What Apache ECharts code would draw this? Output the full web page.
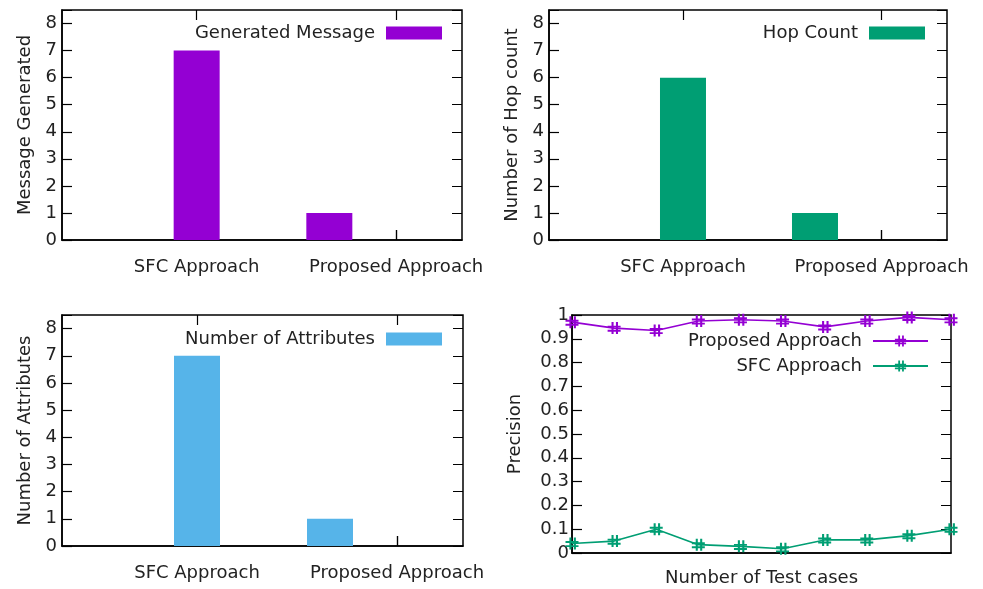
<!DOCTYPE html>
<html>
<head>
<meta charset="utf-8">
<title>Comparison charts</title>
<script src="https://cdn.jsdelivr.net/npm/echarts@6/dist/echarts.min.js"></script>
<style>
  html, body { margin: 0; padding: 0; background: #fff; }
  #main { width: 983px; height: 589px; }
</style>
</head>
<body>
<div id="main"></div>
<script>
// data
var approaches = ['SFC Approach', 'Proposed Approach'];
var approachTicks = [0, 1];        // where the two tick labels sit on the x scale
var barX = [0, 0.665];             // x position of each bar on the same scale
var generatedMessage = [7, 1];
var hopCount = [6, 1];
var attributeCount = [7, 1];

var testCases = ['1', '2', '3', '4', '5', '6', '7', '8', '9', '10'];
var proposedPrecision = [0.97, 0.945, 0.935, 0.975, 0.98, 0.975, 0.95, 0.975, 0.99, 0.98];
var sfcPrecision = [0.04, 0.05, 0.1, 0.035, 0.028, 0.018, 0.055, 0.055, 0.073, 0.1];

var chart = echarts.init(document.getElementById('main'));

var FONT = 'DejaVu Sans';
var TXT = '#222';
var TICK = 10;   // gnuplot-style inward tick length
var hashSymbol = 'path://M3,0H4.6V10H3Z M6.4,0H8V10H6.4Z M0,3H10V4.6H0Z M0,6.4H10V8H0Z';

// grid border gives the closed gnuplot frame
var grids = [
    { left: 62, top: 10, width: 400, height: 230 },
    { left: 549, top: 10, width: 398, height: 230 },
    { left: 62, top: 315, width: 401, height: 231 },
    { left: 572, top: 315, width: 379, height: 238 }
].map(function (g) {
    return Object.assign({ show: true, borderColor: '#000', borderWidth: 1.5, backgroundColor: 'transparent' }, g);
});

function frameLine() {
    return { show: true, onZero: false, lineStyle: { color: '#000', width: 1.5 } };
}
function inTick(custom) {
    var t = { show: true, inside: true, length: TICK, lineStyle: { color: '#000', width: 1.2 } };
    if (custom) t.customValues = custom.slice();
    return t;
}
// split lines dashed so only both ends show -> inward ticks on the two opposite borders
function endTicks(span) {
    return { show: true, lineStyle: { color: '#000', width: 1.2, type: [TICK, span - 2 * TICK] } };
}
function txt() {
    return { fontSize: 18, fontFamily: FONT, color: TXT };
}

var xAxes = [], yAxes = [], series = [], legends = [];

function pairs(xs, ys) {
    return ys.map(function (v, i) { return [xs[i], v]; });
}

function barPanel(g, name, yName, values, color, legendRight, legendTop) {
    xAxes.push({
        type: 'value', gridIndex: g, min: -0.675, max: 1.33,
        axisLine: frameLine(), axisTick: inTick(approachTicks),
        splitLine: endTicks(grids[g].height),
        axisLabel: Object.assign(txt(), {
            customValues: approachTicks.slice(), margin: 18,
            formatter: function (v) { return approaches[approachTicks.indexOf(v)]; }
        })
    });
    yAxes.push({
        type: 'value', gridIndex: g, min: 0, max: 8.5, interval: 1,
        name: yName, nameLocation: 'middle', nameGap: 28, nameTextStyle: txt(),
        axisLine: frameLine(), axisTick: inTick(),
        splitLine: endTicks(grids[g].width),
        axisLabel: Object.assign(txt(), { showMaxLabel: false, margin: 5 })
    });
    series.push({
        name: name, type: 'bar', xAxisIndex: g, yAxisIndex: g,
        barWidth: 46, itemStyle: { color: color },
        data: pairs(barX, values)
    });
    legends.push({
        data: [name], right: legendRight, top: legendTop, align: 'right',
        icon: 'rect', itemWidth: 56, itemHeight: 13,
        textStyle: Object.assign(txt(), { padding: [0, 6, 0, 0] })
    });
}

barPanel(0, 'Generated Message', 'Message Generated', generatedMessage, '#9400d3', 536, 19);
barPanel(1, 'Hop Count', 'Number of Hop count', hopCount, '#009e73', 53, 19);
barPanel(2, 'Number of Attributes', 'Number of Attributes', attributeCount, '#56b4e9', 536, 325);

// precision line panel
xAxes.push({
    type: 'category', gridIndex: 3, data: testCases, boundaryGap: false,
    name: 'Number of Test cases', nameLocation: 'middle', nameGap: 16, nameTextStyle: txt(),
    axisLine: frameLine(), axisTick: { show: false }, axisLabel: { show: false }, splitLine: { show: false }
});
yAxes.push({
    type: 'value', gridIndex: 3, min: 0, max: 1, interval: 0.1,
    name: 'Precision', nameLocation: 'middle', nameGap: 48, nameTextStyle: txt(),
    axisLine: frameLine(), axisTick: inTick(),
    splitLine: endTicks(grids[3].width),
    axisLabel: Object.assign(txt(), { margin: 3 })
});

series.push({
    name: 'Proposed Approach', type: 'line', xAxisIndex: 3, yAxisIndex: 3,
    data: proposedPrecision, symbol: hashSymbol, symbolSize: [13, 12],
    lineStyle: { color: '#9400d3', width: 1.6 }, itemStyle: { color: '#9400d3' }
});
series.push({
    name: 'SFC Approach', type: 'line', xAxisIndex: 3, yAxisIndex: 3,
    data: sfcPrecision, symbol: hashSymbol, symbolSize: [13, 12],
    lineStyle: { color: '#009e73', width: 1.6 }, itemStyle: { color: '#009e73' }
});
legends.push({
    data: ['Proposed Approach', 'SFC Approach'], orient: 'vertical',
    right: 49, top: 327, itemGap: 7, align: 'right', itemWidth: 55, itemHeight: 14,
    textStyle: Object.assign(txt(), { padding: [0, 6, 0, 0] })
});

chart.setOption({
    animation: false,
    backgroundColor: '#fff',
    textStyle: { fontFamily: FONT },
    grid: grids,
    xAxis: xAxes,
    yAxis: yAxes,
    legend: legends,
    series: series
});
</script>
</body>
</html>
